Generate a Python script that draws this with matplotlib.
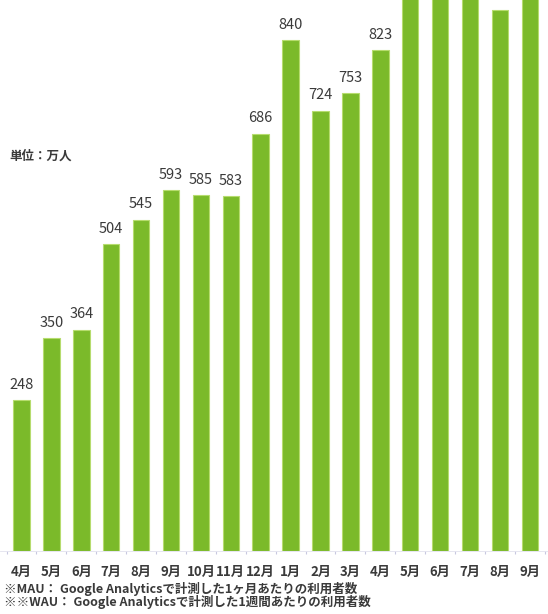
import matplotlib.pyplot as plt

plt.rcParams['font.family'] = ['Noto Sans CJK JP', 'DejaVu Sans']

# monthly users (万人), April through the following September
months = ['4月', '5月', '6月', '7月', '8月', '9月', '10月', '11月', '12月',
          '1月', '2月', '3月', '4月', '5月', '6月', '7月', '8月', '9月']
users = [248, 350, 364, 504, 545, 593, 585, 583, 686,
         840, 724, 753, 823, 940, 960, 975, 890, 1000]

bar_color = '#7BBA2A'
text_color = '#3a3a3a'
y_top = 906

fig = plt.figure(figsize=(5.48, 6.14), dpi=100)
ax = fig.add_axes([0.0, 0.1026, 1.0, 0.8974])

x = range(len(users))
bars = ax.bar(x, users, width=0.55, color=bar_color,
              edgecolor='#B6DC6E', linewidth=0.8)

# value labels only where they fit under the top edge
for i, v in enumerate(users):
    if v > y_top - 50:
        continue
    ax.annotate(str(v), (i, v), xytext=(0, 6), textcoords='offset points',
                ha='center', va='bottom', fontsize=10.5, color=text_color)

ax.set_xlim(-0.72, 17.61)
ax.set_ylim(0, y_top)
ax.set_xticks([i + 0.5 for i in range(-1, 18)])
ax.set_xticklabels([])
ax.tick_params(axis='x', length=2, color='#c8c8e0')
ax.set_yticks([])
for side in ['top', 'right', 'left']:
    ax.spines[side].set_visible(False)
ax.spines['bottom'].set_color('#e2e2ee')
ax.spines['bottom'].set_linewidth(0.6)

for i, m in enumerate(months):
    ax.text(i, -34, m, ha='center', va='center', fontsize=9.5,
            fontweight='bold', color=text_color)

fig.text(0.018, 0.745, '単位：万人', fontsize=9, fontweight='bold',
         color=text_color, va='center')
fig.text(0.008, 0.041, '※MAU： Google Analyticsで計測した1ヶ月あたりの利用者数',
         fontsize=9, fontweight='bold', color=text_color, va='center')
fig.text(0.008, 0.020, '※※WAU： Google Analyticsで計測した1週間あたりの利用者数',
         fontsize=9, fontweight='bold', color=text_color, va='center')

fig.savefig('out.png', dpi=100)
